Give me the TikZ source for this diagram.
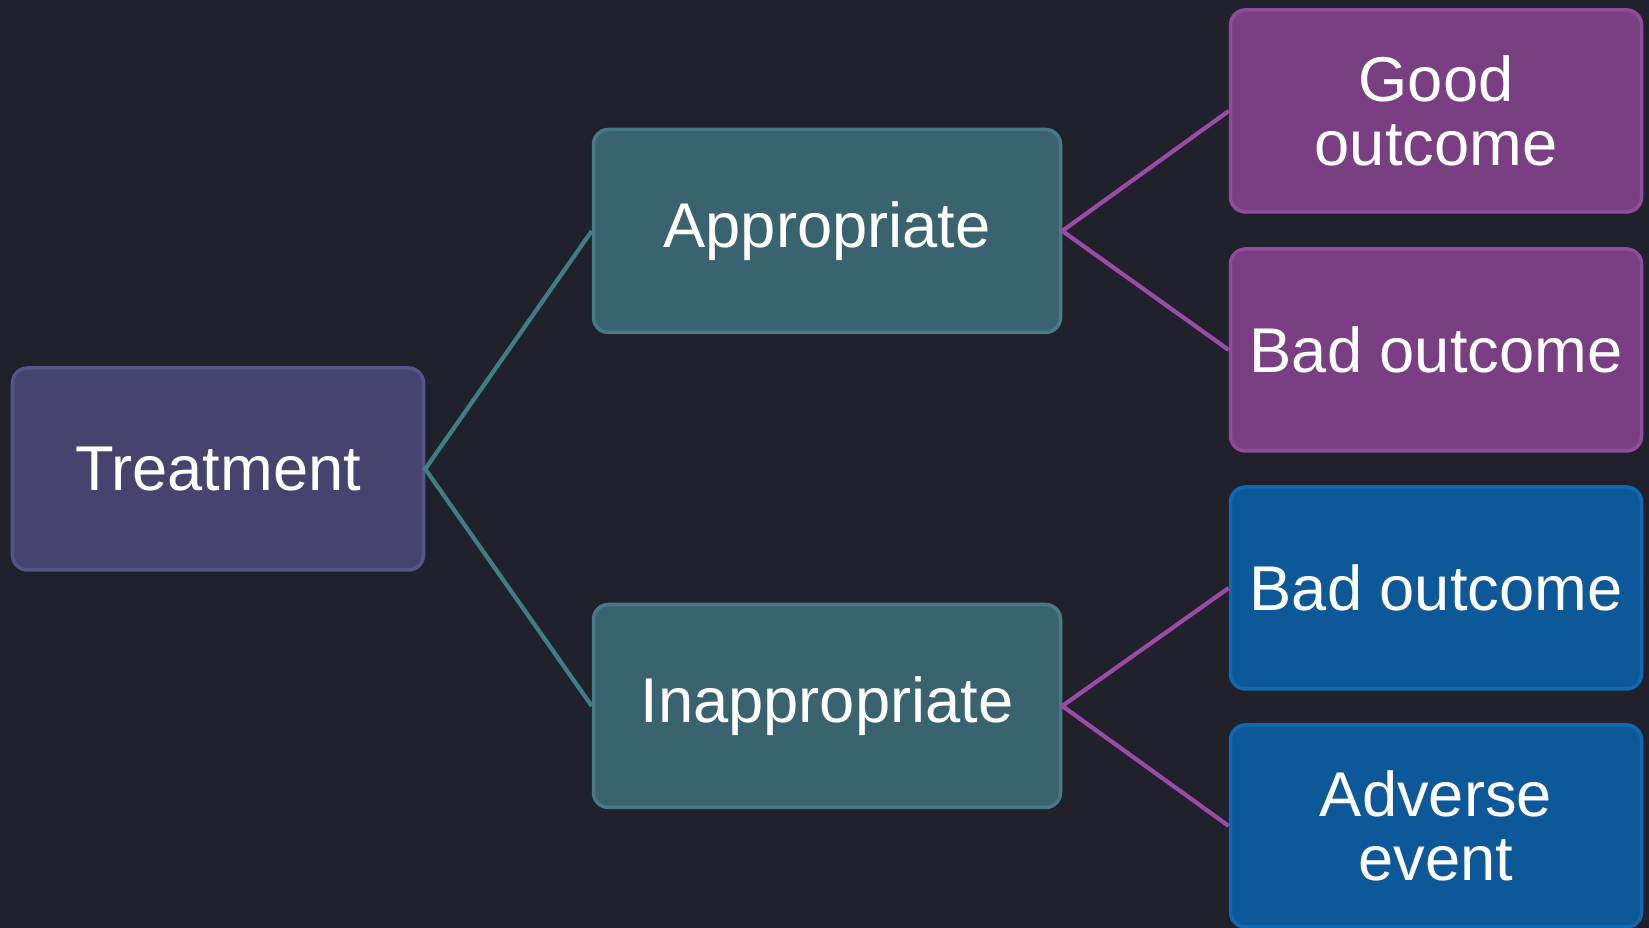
\documentclass[tikz,border=0pt]{standalone}
\usepackage{fontspec}
\setmainfont{Liberation Sans}
\definecolor{bgdark}{HTML}{21212B}
\definecolor{treatfill}{HTML}{46446F}
\definecolor{treatedge}{HTML}{55558A}
\definecolor{tealfill}{HTML}{3A6370}
\definecolor{tealedge}{HTML}{477A86}
\definecolor{tealline}{HTML}{3E7F85}
\definecolor{purpfill}{HTML}{7A3E82}
\definecolor{purpedge}{HTML}{904C9C}
\definecolor{purpline}{HTML}{9B4AA8}
\definecolor{bluefill}{HTML}{0C5899}
\definecolor{blueedge}{HTML}{1268B0}
\begin{document}
\begin{tikzpicture}[
	box/.style={rounded corners=0.15cm, line width=1pt, text=white, align=center, inner sep=0pt,
		font=\fontsize{18}{18}\selectfont},
	rootbox/.style={box, fill=treatfill, draw=treatedge, minimum width=4.11cm, minimum height=2.02cm},
	midbox/.style={box, fill=tealfill, draw=tealedge, minimum width=4.67cm, minimum height=2.03cm},
	goodbox/.style={box, fill=purpfill, draw=purpedge, minimum width=4.11cm, minimum height=2.02cm},
	badbox/.style={box, fill=bluefill, draw=blueedge, minimum width=4.11cm, minimum height=2.02cm},
	teal link/.style={line width=1.2pt, draw=tealline},
	purp link/.style={line width=1.2pt, draw=purpline}]
	\fill[bgdark](0, 0) rectangle (16.49, 9.28);
	\useasboundingbox (0, 0) rectangle (16.49, 9.28);
	\node[rootbox] (treat) at (2.18, 4.59) {Treatment};
	\node[midbox] (approp) at (8.27, 6.97) {Appropriate};
	\node[midbox] (inapprop) at (8.27, 2.22) {Inappropriate};
	\node[goodbox] (good) at (14.36, 8.17) {Good\\outcome};
	\node[goodbox] (badA) at (14.36, 5.78) {Bad outcome};
	\node[badbox] (badI) at (14.36, 3.40) {Bad outcome};
	\node[badbox] (adverse) at (14.36, 1.02) {Adverse\\event};
	\draw[teal link](approp.west) -- (treat.east) -- (inapprop.west);
	\draw[purp link](good.west) -- (approp.east) -- (badA.west);
	\draw[purp link](badI.west) -- (inapprop.east) -- (adverse.west);
	%\draw[line width=1pt](0, 0) rectangle (16.49, 9.28);
\end{tikzpicture}
\end{document}
